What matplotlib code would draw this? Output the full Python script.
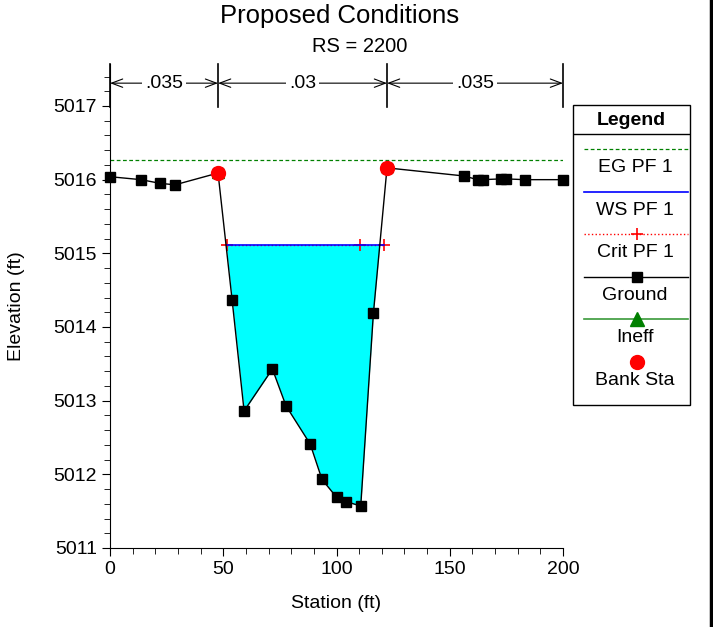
import matplotlib
matplotlib.use('Agg')
import matplotlib.pyplot as plt
from matplotlib.lines import Line2D
import numpy as np
from matplotlib.ticker import MultipleLocator

plt.rcParams['font.family'] = ['Liberation Sans', 'DejaVu Sans']

# ground profile
sta = [0, 13.7, 22.1, 28.7, 47.7, 53.9, 59.2, 71.7, 77.7, 88.4, 93.6, 100.0, 104.2,
       110.7, 116.3, 122.3, 156.3, 162.3, 164.5, 172.5, 175.0, 183.2, 200.0]
elev = [5016.04, 5016.0, 5015.95, 5015.93, 5016.09, 5014.37, 5012.86, 5013.43, 5012.93,
        5012.41, 5011.93, 5011.69, 5011.63, 5011.57, 5014.19, 5016.16, 5016.05, 5016.0,
        5016.0, 5016.01, 5016.01, 5016.0, 5016.0]

bank_sta = [47.7, 122.3]
bank_elev = [5016.09, 5016.16]

eg_elev = 5016.27
ws_elev = 5015.11
crit_sta = [51.7, 110.5, 121.0]
crit_elev = 5015.11

n_sta = [0, 47.7, 122.3, 200]
n_vals = ['.035', '.03', '.035']

fig = plt.figure(figsize=(7.13, 6.27), dpi=100)
ax = fig.add_axes([110/713, 79/627, 453/713, 484/627])

g = np.array(elev)
s = np.array(sta)
ax.fill_between(s, g, ws_elev, where=g < ws_elev, interpolate=True, color='#00ffff', lw=0)

ax.plot([0, 200], [eg_elev, eg_elev], color='#008000', ls=(0, (3, 2)), lw=0.9)
ax.plot(crit_sta, [crit_elev] * len(crit_sta), color='red', ls=':', lw=1, marker='+', ms=9, mew=1.2)
ax.plot([crit_sta[0], crit_sta[-1]], [ws_elev, ws_elev], color='blue', lw=1.2)
ax.plot(sta, elev, color='black', lw=1, marker='s', ms=6.5, zorder=4, clip_on=False)
ax.plot(bank_sta, [e + 0.02 for e in bank_elev], color='#008000', ls='none', marker='^', ms=8, zorder=5)
ax.plot(bank_sta, bank_elev, color='red', ls='none', marker='o', ms=10, zorder=6)

# n values
ytop = 5017.57
for x in n_sta:
    ax.plot([x, x], [ytop, 5016.99], color='black', lw=1.2, clip_on=False)
for i, lab in enumerate(n_vals):
    x0, x1 = n_sta[i], n_sta[i + 1]
    ax.annotate('', xy=(x0, 5017.31), xytext=(x1, 5017.31),
                arrowprops=dict(arrowstyle='<->,head_length=0.8,head_width=0.3', lw=0.8,
                                shrinkA=0, shrinkB=0))
    ax.text((x0 + x1) / 2, 5017.31, lab, ha='center', va='center', fontsize=14,
            bbox=dict(facecolor='white', edgecolor='none', pad=2))

ax.set_xlim(0, 200)
ax.set_ylim(5011, ytop)
ax.set_xticks([0, 50, 100, 150, 200])
ax.set_yticks([5011, 5012, 5013, 5014, 5015, 5016, 5017])
ax.xaxis.set_minor_locator(MultipleLocator(10))
ax.yaxis.set_minor_locator(MultipleLocator(0.2))
ax.tick_params(which='major', length=6, labelsize=14, direction='out')
ax.tick_params(which='minor', length=4, direction='out')
ax.spines['top'].set_visible(False)
ax.spines['right'].set_visible(False)
ax.yaxis.get_major_formatter().set_useOffset(False)
ax.set_xlabel('Station (ft)', fontsize=14, labelpad=12)
ax.set_ylabel('Elevation (ft)', fontsize=14, labelpad=20)

fig.text(340/713, 1 - 16/627, 'Proposed Conditions', ha='center', va='center', fontsize=18.5)
fig.text(360/713, 1 - 46/627, 'RS = 2200', ha='center', va='center', fontsize=14.5)

# legend box
lg = fig.add_axes([573/713, 1 - 405/627, 117/713, 300/627])
lg.set_xlim(573, 690)
lg.set_ylim(405, 105)
lg.axis('off')
lg.add_patch(plt.Rectangle((573, 105), 117, 300, fill=False, ec='black', lw=1, clip_on=False))
lg.plot([573, 690], [134, 134], color='black', lw=1)
lg.text(631.5, 120, 'Legend', ha='center', va='center', fontsize=14, fontweight='bold')
items = [
    ('EG PF 1', dict(color='#008000', ls=(0, (3, 2)), lw=0.9)),
    ('WS PF 1', dict(color='blue', lw=1.2)),
    ('Crit PF 1', dict(color='red', ls=':', lw=1, marker='+', ms=9, mew=1.2)),
    ('Ground', dict(color='black', lw=1, marker='s', ms=6.5)),
    ('Ineff', dict(color='#3a9a3a', lw=1.2, marker='^', ms=10, mfc='#008000', mec='#008000')),
    ('Bank Sta', dict(color='red', ls='none', marker='o', ms=10)),
]
for i, (lab, kw) in enumerate(items):
    yl = 149 + i * 42.6
    if lab in ('Crit PF 1', 'Ground', 'Ineff', 'Bank Sta'):
        lg.plot([584, 688], [yl, yl], **{k: v for k, v in kw.items() if not k.startswith('m')})
        mk = {k: v for k, v in kw.items() if k.startswith('m')}
        if mk:
            lg.plot([637], [yl], ls='none', color=kw['color'], **mk)
    else:
        lg.plot([584, 688], [yl, yl], **kw)
    lg.text(635, yl + 18.5, lab, ha='center', va='center', fontsize=14)

fig.add_artist(Line2D([710.5/713, 710.5/713], [0, 1], color='black', lw=2.5))

fig.savefig('out.png', dpi=100)
